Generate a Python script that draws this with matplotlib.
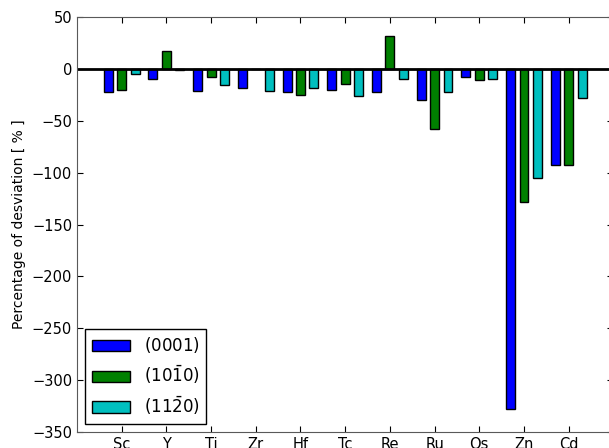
import numpy as np
import matplotlib.pyplot as plt

elements = ['Sc', 'Y', 'Ti', 'Zr', 'Hf', 'Tc', 'Re', 'Ru', 'Os', 'Zn', 'Cd']
dev_0001 = [-22, -10, -21, -18, -22, -20, -22, -30, -8, -328, -93]
dev_1010 = [-20, 17, -8, 0, -25, -15, 32, -58, -11, -128, -93]
dev_1120 = [-5, -1, -16, -21, -18, -26, -10, -22, -10, -105, -28]

x = np.arange(1, len(elements) + 1)
w = 0.2

fig = plt.figure(figsize=(6.09, 4.48), dpi=100)
ax = fig.add_axes([0.1264, 0.0357, 0.8808, 0.9263])

ax.bar(x - 0.3, dev_0001, w, align='center', color='b', edgecolor='k', label=r'$(0001)$')
ax.bar(x, dev_1010, w, align='center', color='g', edgecolor='k', label=r'$(10\bar{1}0)$')
ax.bar(x + 0.3, dev_1120, w, align='center', color='c', edgecolor='k', label=r'$(11\bar{2}0)$')
ax.axhline(0, color='k', linewidth=2)

ax.set_xlim(0, 12)
ax.set_ylim(-350, 50)
ax.set_xticks(x)
ax.set_xticklabels(elements)
ax.set_yticks(np.arange(-350, 51, 50))
ax.tick_params(direction='in', top=True, right=True, labelsize=10.5, length=4)
for s in ax.spines.values():
    s.set_color('0.35')
ax.set_ylabel('Percentage of desviation [ % ]', fontsize=10)
ax.legend(loc='lower left', fontsize=12, fancybox=False, edgecolor='k',
          framealpha=1, handlelength=2.3)

fig.savefig('out.png', dpi=100)
